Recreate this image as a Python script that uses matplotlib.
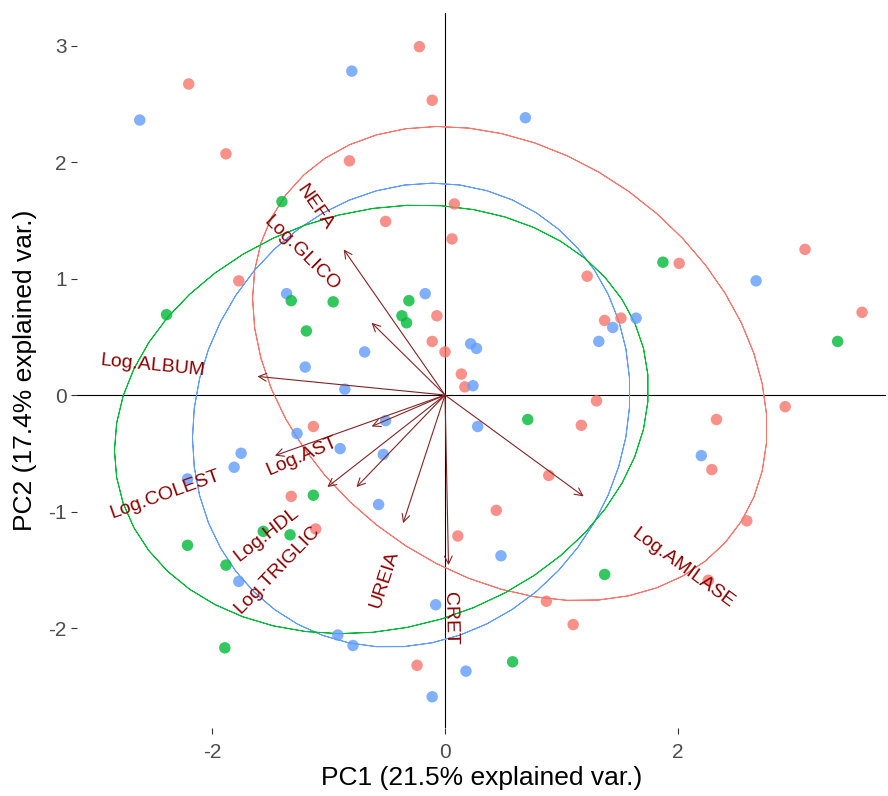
import matplotlib
matplotlib.use("Agg")
import matplotlib.pyplot as plt
import numpy as np

plt.rcParams['font.family'] = ['Liberation Sans', 'DejaVu Sans']
plt.rcParams['axes.unicode_minus'] = False

# PCA scores, one group per colour
g1_pc1 = [-0.22, -2.20, -0.11, -1.88, -0.82, 0.08, -0.51, 0.06, -1.77, -0.07,
          -0.11, 0.00, 0.14, 0.17, 1.22, 2.01, 3.09, 3.58, 1.37, 1.51,
          1.30, 1.17, 2.92, 2.33, 2.29, 0.89, 0.44, 0.11, 2.59, 2.26,
          0.87, 1.10, -1.13, -1.32, -1.11, -0.24]
g1_pc2 = [2.99, 2.67, 2.53, 2.07, 2.01, 1.64, 1.49, 1.34, 0.98, 0.68,
          0.46, 0.37, 0.18, 0.07, 1.02, 1.13, 1.25, 0.71, 0.64, 0.66,
          -0.05, -0.26, -0.10, -0.21, -0.64, -0.69, -0.99, -1.21, -1.08, -1.59,
          -1.77, -1.97, -0.27, -0.87, -1.15, -2.32]

g2_pc1 = [-0.80, -2.62, -1.36, -0.17, -0.69, -1.20, -0.86, 0.22, 0.27, 0.24,
          0.69, 2.67, 1.44, 1.64, 1.32, 0.28, 2.20, 0.48, 0.18, -0.51,
          -1.27, -1.75, -1.81, -0.90, -2.21, -0.53, -0.57, -1.77, -0.08, -0.92,
          -0.79, -0.11]
g2_pc2 = [2.78, 2.36, 0.87, 0.87, 0.37, 0.24, 0.05, 0.44, 0.40, 0.08,
          2.38, 0.98, 0.58, 0.66, 0.46, -0.27, -0.52, -1.38, -2.37, -0.22,
          -0.33, -0.50, -0.62, -0.46, -0.72, -0.51, -0.94, -1.60, -1.80, -2.06,
          -2.15, -2.59]

g3_pc1 = [-1.40, -2.39, -1.32, -0.96, -1.19, -0.31, -0.37, -0.33, 1.87, 3.37,
          0.71, 1.37, 0.58, -1.13, -1.56, -1.33, -2.21, -1.88, -1.89]
g3_pc2 = [1.66, 0.69, 0.81, 0.80, 0.55, 0.81, 0.68, 0.62, 1.14, 0.46,
          -0.21, -1.54, -2.29, -0.86, -1.17, -1.20, -1.29, -1.46, -2.17]

# variable loadings (arrow tips)
var_names = ['NEFA', 'Log.GLICO', 'Log.ALBUM', 'Log.AST', 'Log.COLEST',
             'Log.HDL', 'Log.TRIGLIC', 'UREIA', 'CRET', 'Log.AMILASE']
var_pc1 = [-0.87, -0.63, -1.61, -0.63, -1.46, -1.01, -0.76, -0.36, 0.03, 1.19]
var_pc2 = [1.25, 0.62, 0.16, -0.27, -0.52, -0.79, -0.79, -1.10, -1.46, -0.87]

colors = ['#F8766D', '#619CFF', '#00BA38']
groups = [(g1_pc1, g1_pc2), (g2_pc1, g2_pc2), (g3_pc1, g3_pc2)]

fig = plt.figure(figsize=(8.88, 7.96), dpi=100)
ax = fig.add_axes([76.5 / 888, 68 / 796, 809.5 / 888, 715 / 796])

ax.axhline(0, color='black', lw=0.8, zorder=1)
ax.axvline(0, color='black', lw=0.8, zorder=1)

# 68% normal ellipses per group, like ggbiplot
theta = np.concatenate([np.linspace(-np.pi, np.pi, 50), np.linspace(np.pi, -np.pi, 50)])
circle = np.column_stack([np.cos(theta), np.sin(theta)])
ed = np.sqrt(-2 * np.log(1 - 0.68))
for (gx, gy), c in zip(groups, colors):
    xy = np.column_stack([gx, gy])
    sigma = np.cov(xy, rowvar=False)
    L = np.linalg.cholesky(sigma)
    ell = circle @ L.T * ed + xy.mean(axis=0)
    ax.plot(ell[:, 0], ell[:, 1], color=c, lw=0.7, zorder=2)

for (gx, gy), c in zip(groups, colors):
    ax.scatter(gx, gy, s=68, color=c, alpha=0.8, edgecolors='none', zorder=3)

for vx, vy in zip(var_pc1, var_pc2):
    ax.annotate('', xy=(vx, vy), xytext=(0, 0),
                arrowprops=dict(arrowstyle='->', color='#832424', lw=0.8,
                                mutation_scale=14, shrinkA=0, shrinkB=0),
                zorder=4)

renderer = fig.canvas.get_renderer()
for name, vx, vy in zip(var_names, var_pc1, var_pc2):
    ang = np.degrees(np.arctan(vy / vx))
    tmp = ax.text(0, 0, name, fontsize=14)
    w = tmp.get_window_extent(renderer).width * 72 / fig.dpi
    tmp.remove()
    n = np.hypot(vx, vy)
    ax.annotate(name, xy=(vx, vy), xytext=(0.5 * w * vx / n, 0.5 * w * vy / n),
                textcoords='offset points', ha='right' if vx < 0 else 'left',
                va='center', rotation=ang, rotation_mode='anchor',
                color='darkred', fontsize=14, zorder=5)

ax.set_xlim(-3.163, 3.785)
ax.set_ylim(-2.858, 3.279)
ax.set_xticks([-2, 0, 2])
ax.set_yticks([-2, -1, 0, 1, 2, 3])
for s in ax.spines.values():
    s.set_visible(False)
ax.tick_params(length=4, width=0.8, color='#333333', labelcolor='#4D4D4D',
               labelsize=15)
ax.tick_params(axis='x', pad=7)
ax.tick_params(axis='y', pad=3)
ax.set_xlabel('PC1 (21.5% explained var.)', fontsize=19, labelpad=3)
ax.set_ylabel('PC2 (17.4% explained var.)', fontsize=19, labelpad=8)

plt.savefig('out.png', dpi=100)
